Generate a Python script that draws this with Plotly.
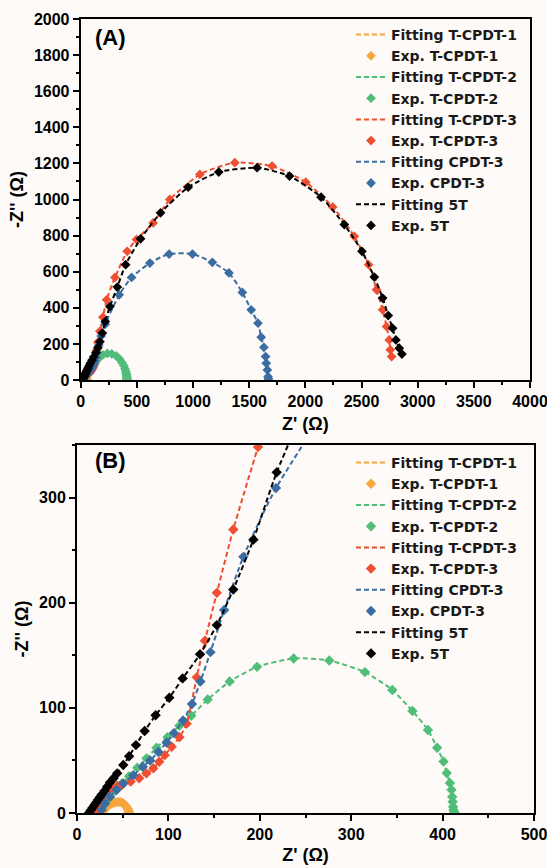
import plotly.graph_objects as go

# ---------------- data (Z' , -Z'') ----------------
t1_x = [28, 30, 32, 35, 38, 41, 44, 47, 50, 52, 54, 55.5, 56.5, 57]
t1_y = [0, 3, 5.5, 7.5, 9, 10, 10.5, 10.5, 9.5, 8, 6, 4, 2, 0.5]

t2_x = [24, 27, 31, 36, 42, 49, 57, 66, 76, 87, 99, 112, 125, 143, 167, 197, 237, 276,
        315, 345, 367, 384, 394, 401, 404.5, 408, 409.7, 410.5, 411, 411.5, 412, 412.5, 413]
t2_y = [0, 4, 9, 15, 21, 28, 35, 43, 52, 62, 72, 83, 92.5, 108, 125, 139, 147, 145,
        134, 117, 97, 79, 62, 49, 38, 28.5, 22, 15.5, 10.7, 6, 2.8, 1.2, 0.3]

t3_x = [21.5, 24, 28, 33, 38, 44, 49, 58.7, 68, 76, 83.5, 90, 96, 103.6, 112, 120, 131, 140,
        153, 171, 198, 231, 305, 414, 497, 645, 793, 1061, 1372, 1704, 2004, 2243, 2436,
        2563, 2634, 2688, 2723, 2747, 2756, 2768]
t3_y = [0, 8, 15, 21, 24, 26, 26.6, 29.8, 33, 37.7, 42.5, 48.8, 55, 63, 72, 85, 129, 163.8,
        209.4, 269.7, 348, 444, 568, 713, 778, 870, 1000, 1139, 1204, 1185, 1096, 959, 796,
        639, 500, 389, 296, 222, 167, 130]

c3_x = [27, 30.6, 36, 43.4, 50.7, 61.6, 72, 80, 89, 98, 106, 116, 125.8, 135, 146, 161, 182,
        217.7, 343, 453, 616, 787, 995, 1172, 1320, 1439, 1518, 1578, 1607, 1631, 1646,
        1652, 1662, 1668, 1672]
c3_y = [3, 9, 15.5, 22, 28, 36, 44, 50, 58, 67, 76, 88, 103.6, 125, 153, 193, 243.6,
        309, 472, 568, 648, 698, 698, 652, 593, 485, 389, 315, 237, 181, 130,
        93, 56, 18, 5]

t5_x = [13, 15, 17, 19, 21, 23, 25, 27, 30, 33, 36, 40, 44, 50.6, 57, 64.5, 74, 86, 101,
        115.6, 134.6, 153, 171, 193, 218.5, 260, 326, 400, 533, 711, 957, 1229, 1570,
        1859, 2140, 2347, 2504, 2614, 2688, 2738, 2776, 2806, 2836, 2860]
t5_y = [0, 2.5, 5, 7.5, 10, 12.5, 15, 17.5, 21, 25, 29, 33, 37.7, 45.6, 54, 64.6, 78, 93,
        109.6, 128, 151, 178.7, 212.6, 260, 324, 407, 515, 639, 782, 926, 1068, 1152,
        1176, 1130, 1013, 861, 713, 570, 454, 357, 287, 222, 176, 144]

names = ["T-CPDT-1", "T-CPDT-2", "T-CPDT-3", "CPDT-3", "5T"]
colors = ["#F7A63C", "#50BD78", "#EE4E31", "#3B6DA2", "#000000"]
series_x = [t1_x, t2_x, t3_x, c3_x, t5_x]
series_y = [t1_y, t2_y, t3_y, c3_y, t5_y]

FONT = "Liberation Sans, Arial, sans-serif"
LEGFONT = "DejaVu Sans, Liberation Sans, sans-serif"
BG = "#FDFAF7"

fig = go.Figure()
for panel, (xa, ya, leg, msize) in enumerate([("x", "y", "legend", 7.5), ("x2", "y2", "legend2", 8)]):
    for n, c, xs, ys in zip(names, colors, series_x, series_y):
        fig.add_trace(go.Scatter(
            x=xs, y=ys, mode="lines", name="Fitting " + n,
            line=dict(color=c, width=2, dash="5px,3px", shape="spline", smoothing=0.6),
            xaxis=xa, yaxis=ya, legend=leg))
        fig.add_trace(go.Scatter(
            x=xs, y=ys, mode="markers", name="Exp. " + n,
            marker=dict(color=c, symbol="diamond", size=msize, line=dict(width=0)),
            xaxis=xa, yaxis=ya, legend=leg))

W, H = 547, 868
def dom_x(a, b):
    return [a / W, b / W]
def dom_y(top, bot):
    return [1 - bot / H, 1 - top / H]

axis_common = dict(
    showline=True, linecolor="black", linewidth=2, mirror=True,
    ticks="outside", ticklen=6, tickwidth=2, tickcolor="black",
    showgrid=False, zeroline=False, automargin=False, ticklabeloverflow="allow",
    tickfont=dict(family=FONT, size=16, color="black", weight="bold"),
    minor=dict(ticks="outside", ticklen=3, tickwidth=1.5, tickcolor="black"),
)
title_font = dict(family=FONT, size=18, color="black", weight="bold")
leg_font = dict(family=LEGFONT, size=14, color="#1a1a1a", weight="bold")

fig.update_layout(
    width=W, height=H,
    margin=dict(l=0, r=0, t=0, b=0, autoexpand=False),
    paper_bgcolor=BG, plot_bgcolor=BG,
    font=dict(family=FONT, color="black"),
    xaxis=dict(axis_common, domain=dom_x(80.7, 530), range=[0, 4000], dtick=500,
               minor=dict(axis_common["minor"], dtick=250), anchor="y",
               title=dict(text="Z' (Ω)", font=title_font, standoff=8)),
    yaxis=dict(axis_common, domain=dom_y(19, 380), range=[0, 2000], dtick=200,
               minor=dict(axis_common["minor"], dtick=100), anchor="x",
               title=dict(text="-Z'' (Ω)", font=title_font, standoff=6)),
    xaxis2=dict(axis_common, domain=dom_x(77, 534), range=[0, 500], dtick=100,
                minor=dict(axis_common["minor"], dtick=50), anchor="y2",
                title=dict(text="Z' (Ω)", font=title_font, standoff=6)),
    yaxis2=dict(axis_common, domain=dom_y(445, 813), range=[0, 350], dtick=100,
                minor=dict(axis_common["minor"], dtick=50), anchor="x2",
                title=dict(text="-Z'' (Ω)", font=title_font, standoff=6)),
    legend=dict(x=351 / W, y=1 - 19 / H, xanchor="left", yanchor="top",
                bgcolor="rgba(0,0,0,0)", borderwidth=0, font=leg_font,
                itemwidth=30, tracegroupgap=0),
    legend2=dict(x=351 / W, y=1 - 447 / H, xanchor="left", yanchor="top",
                 bgcolor="rgba(0,0,0,0)", borderwidth=0, font=leg_font,
                 itemwidth=30, tracegroupgap=0),
    showlegend=True,
    annotations=[
        dict(text="(A)", x=93 / W, y=1 - 37 / H, xref="paper", yref="paper",
             xanchor="left", yanchor="middle", showarrow=False,
             font=dict(family=FONT, size=22, color="black", weight="bold")),
        dict(text="(B)", x=93 / W, y=1 - 460 / H, xref="paper", yref="paper",
             xanchor="left", yanchor="middle", showarrow=False,
             font=dict(family=FONT, size=22, color="black", weight="bold")),
    ],
)

fig.write_html(
    "out.html",
    config={"displayModeBar": False},
    post_script="document.body.style.margin='0';document.body.style.overflow='hidden';"
                "document.documentElement.style.background='" + BG + "';",
)
